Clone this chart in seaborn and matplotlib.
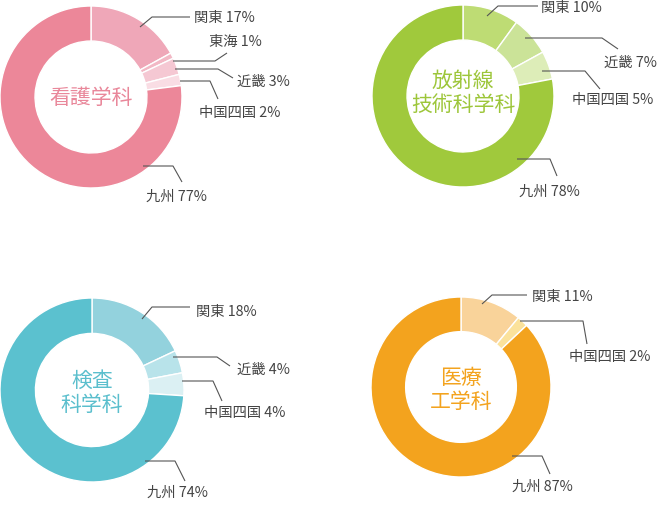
import matplotlib
matplotlib.use('Agg')
import matplotlib.pyplot as plt
import seaborn as sns

# ---- data ----
kango_regions = ['関東', '東海', '近畿', '中国四国', '九州']
kango_values = [17, 1, 3, 2, 77]

hoshasen_regions = ['関東', '近畿', '中国四国', '九州']
hoshasen_values = [10, 7, 5, 78]

kensa_regions = ['関東', '近畿', '中国四国', '九州']
kensa_values = [18, 4, 4, 74]

iryo_regions = ['関東', '中国四国', '九州']
iryo_values = [11, 2, 87]

titles = ['看護学科', '放射線\n技術科学科', '検査\n科学科', '医療\n工学科']

# ---- style ----
sns.set_theme(style='white')
plt.rcParams['font.family'] = ['Noto Sans CJK JP', 'DejaVu Sans']

W, H = 665, 506
fig = plt.figure(figsize=(6.65, 5.06), dpi=100)
ax = fig.add_axes([0, 0, 1, 1])

charts = [
    dict(title=titles[0], regions=kango_regions, values=kango_values,
         colors=['#EFA7B8', '#F2B8C5', '#F5C8D3', '#F9DDE4', '#EC8799'],
         tcolor='#E9879A', center=(91, 98), r=91, tpos=(91, 98),
         leaders=[[(140, 28), (152, 18), (190, 18)],
                  [(173, 62), (215, 62), (227, 54)],
                  [(175, 70), (218, 70), (233, 79)],
                  [(180, 82), (210, 82), (218, 100)],
                  [(143, 167), (173, 167), (182, 183)]],
         lpos=[(194, 18), (209, 42), (237, 82), (199, 113), (146, 197)]),
    dict(title=titles[1], regions=hoshasen_regions, values=hoshasen_values,
         colors=['#BEDC74', '#CBE398', '#DDEDB8', '#A0C93C'],
         tcolor='#9DC63A', center=(463, 97), r=91, tpos=(463, 93),
         leaders=[[(487, 17), (498, 7), (538, 7)],
                  [(525, 39), (602, 39), (618, 50)],
                  [(542, 72), (585, 72), (600, 90)],
                  [(517, 160), (550, 160), (557, 177)]],
         lpos=[(541, 8), (604, 63), (572, 100), (519, 192)]),
    dict(title=titles[2], regions=kensa_regions, values=kensa_values,
         colors=['#93D2DD', '#B8E3EA', '#DBF0F3', '#5BC1CF'],
         tcolor='#5BBFCD', center=(92, 391), r=92, tpos=(92, 393),
         leaders=[[(142, 320), (152, 308), (190, 308)],
                  [(173, 358), (217, 358), (230, 367)],
                  [(182, 382), (213, 382), (222, 402)],
                  [(145, 462), (175, 462), (185, 482)]],
         lpos=[(196, 312), (237, 370), (204, 413), (147, 493)]),
    dict(title=titles[3], regions=iryo_regions, values=iryo_values,
         colors=['#F9D39A', '#FBE29B', '#F3A31E'],
         tcolor='#F3A31E', center=(461, 388), r=90, tpos=(461, 390),
         leaders=[[(482, 305), (492, 296), (527, 296)],
                  [(520, 322), (583, 322), (587, 345)],
                  [(512, 457), (542, 457), (550, 475)]],
         lpos=[(532, 297), (569, 357), (512, 487)]),
]

for c in charts:
    cx, cy = c['center']
    ax.pie(c['values'], colors=c['colors'], center=(cx, H - cy), radius=c['r'],
           startangle=90, counterclock=False, frame=True,
           wedgeprops=dict(width=c['r'] * 0.385, edgecolor='white', linewidth=1))
    tx, ty = c['tpos']
    ax.text(tx, H - ty, c['title'], color=c['tcolor'], fontsize=15,
            ha='center', va='center', linespacing=1.15)
    for reg, val, pts, (lx, ly) in zip(c['regions'], c['values'], c['leaders'], c['lpos']):
        xs = [p[0] for p in pts]
        ys = [H - p[1] for p in pts]
        ax.plot(xs, ys, color='#555555', lw=0.8, solid_capstyle='butt')
        ax.text(lx, H - ly, f'{reg} {val}%', color='#444444', fontsize=10.3,
                ha='left', va='center')

ax.set_xlim(0, W)
ax.set_ylim(0, H)
ax.set_aspect('equal')
ax.axis('off')
fig.savefig('out.png', dpi=100)
